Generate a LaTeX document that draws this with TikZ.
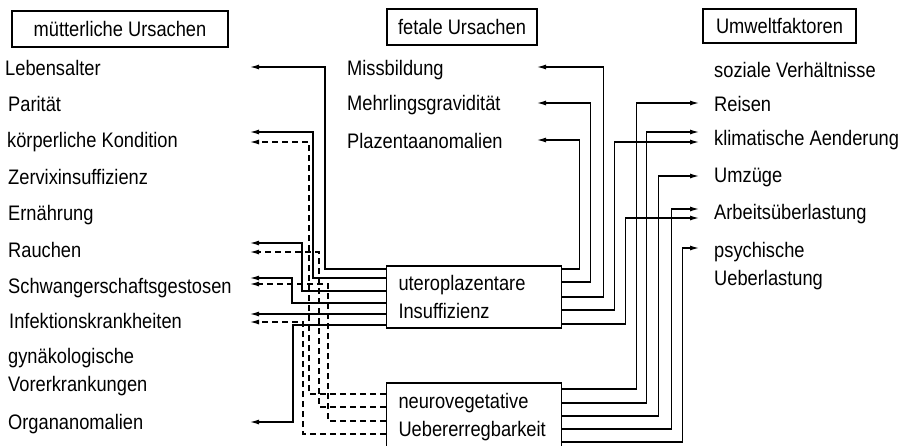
\documentclass[tikz,border=0pt]{standalone}
\usepackage{fontspec}
\setmainfont{Liberation Sans}[FakeStretch=0.87]
\usepackage{tikz}
\usetikzlibrary{arrows.meta}
\tikzset{
  ubox/.style={draw,line width=1.2pt,inner sep=0pt},
  uhead/.style={ubox,minimum height=36pt},
  ucause/.style={ubox,text width=151pt,inner xsep=12pt,align=left,minimum width=175pt},
  utxt/.style={anchor=west,inner sep=0pt,text height=15pt,text depth=0pt},
  utwo/.style={anchor=north west,inner sep=0pt,align=left},
  uflow/.style={-{Latex[length=9pt,width=5pt]},line width=1.2pt},
  udash/.style={uflow,dash pattern=on 6pt off 4pt},
}

\begin{document}
\begin{tikzpicture}[x=1pt,y=-1pt,font=\fontsize{21}{28}\selectfont]
\path[use as bounding box,fill=white] (0,0) rectangle (907,445);
% headers
\node[uhead,minimum width=216pt] (mut) at (120,29) {mütterliche Ursachen};
\node[uhead,minimum width=150pt] (fet) at (462,27) {fetale Ursachen};
\node[uhead,minimum width=153pt,minimum height=34pt] (umw) at (779.5,26) {Umweltfaktoren};
% maternal causes
\node[utxt] (leb) at (5,67.5) {Lebensalter};
\node[utxt] (par) at (8,104) {Parität};
\node[utxt] (koe) at (7,140) {körperliche Kondition};
\node[utxt] (zer) at (8,177) {Zervixinsuffizienz};
\node[utxt] (ern) at (8,213) {Ernährung};
\node[utxt] (rau) at (8,249.5) {Rauchen};
\node[utxt] (sch) at (8,285.5) {Schwangerschaftsgestosen};
\node[utxt] (inf) at (9,321) {Infektionskrankheiten};
\node[utwo] (gyn) at (8,348) {gynäkologische\\Vorerkrankungen};
\node[utxt] (org) at (8,421.5) {Organanomalien};
% fetal causes
\node[utxt] (mis) at (347,68) {Missbildung};
\node[utxt] (meh) at (347,102.5) {Mehrlingsgravidität};
\node[utxt] (pla) at (347,140.5) {Plazentaanomalien};
% environment
\node[utxt] (soz) at (714,69.5) {soziale Verhältnisse};
\node[utxt] (rei) at (714,103.5) {Reisen};
\node[utxt] (kli) at (714,138) {klimatische Aenderung};
\node[utxt] (umz) at (714,175) {Umzüge};
\node[utxt] (arb) at (714,211.5) {Arbeitsüberlastung};
\node[utwo] (psy) at (714,242) {psychische\\Ueberlastung};
% central boxes
\node[ucause,minimum height=62pt] (uter) at (474,297) {uteroplazentare\\Insuffizienz};
\node[ucause,minimum height=68pt] (neur) at (474,417) {neurovegetative\\Uebererregbarkeit};
% arrow ends
\coordinate (tLeb) at (250,67);
\coordinate (tKoeA) at (250,132);
\coordinate (tKoeB) at (250,142);
\coordinate (tRauA) at (250,243);
\coordinate (tRauB) at (250,252);
\coordinate (tSchA) at (250,278);
\coordinate (tSchB) at (250,284);
\coordinate (tInfA) at (250,314);
\coordinate (tInfB) at (250,322);
\coordinate (tOrg) at (250,422);
\coordinate (tMis) at (537,67);
\coordinate (tMeh) at (537,103);
\coordinate (tPla) at (537,140);
\coordinate (tRei) at (699,103);
\coordinate (tKliA) at (699,132);
\coordinate (tKliB) at (699,142);
\coordinate (tUmz) at (699,176);
\coordinate (tArbA) at (699,209);
\coordinate (tArbB) at (699,218);
\coordinate (tPsy) at (699,248);
% utero -> left
\draw[uflow] ([yshift=28pt]uter.west) -- ++(-61,0) |- (tLeb);
\draw[uflow] ([yshift=19pt]uter.west) -- ++(-73,0) |- (tKoeA);
\draw[uflow] ([yshift=6pt]uter.west) -- ++(-84,0) |- (tRauA);
\draw[uflow] ([yshift=-6pt]uter.west) -- ++(-94,0) |- (tSchA);
\draw[uflow] ([yshift=-17pt]uter.west) -- (tInfA);
\draw[uflow] ([yshift=-28pt]uter.west) -- ++(-93,0) |- (tOrg);
% neuro -> left
\draw[udash] ([yshift=23pt]neur.west) -- ++(-77,0) |- (tKoeB);
\draw[udash] ([yshift=10pt]neur.west) -- ++(-67,0) |- (tRauB);
\draw[udash] ([yshift=-4pt]neur.west) -- ++(-58,0) |- (tSchB);
\draw[udash] ([yshift=-17pt]neur.west) -- ++(-83,0) |- (tInfB);
% utero -> right
\draw[uflow] ([yshift=28pt]uter.east) -- ++(17,0) |- (tPla);
\draw[uflow] ([yshift=15pt]uter.east) -- ++(28,0) |- (tMeh);
\draw[uflow] (uter.east) -- ++(41,0) |- (tMis);
\draw[uflow] ([yshift=-13pt]uter.east) -- ++(52,0) |- (tKliB);
\draw[uflow] ([yshift=-27pt]uter.east) -- ++(63,0) |- (tArbB);
% neuro -> right
\draw[uflow] ([yshift=28pt]neur.east) -- ++(74,0) |- (tRei);
\draw[uflow] ([yshift=14pt]neur.east) -- ++(84,0) |- (tKliA);
\draw[uflow] ([yshift=1pt]neur.east) -- ++(96,0) |- (tUmz);
\draw[uflow] ([yshift=-12pt]neur.east) -- ++(109,0) |- (tArbA);
\draw[uflow] ([yshift=-25pt]neur.east) -- ++(120,0) |- (tPsy);
\end{tikzpicture}
\end{document}
